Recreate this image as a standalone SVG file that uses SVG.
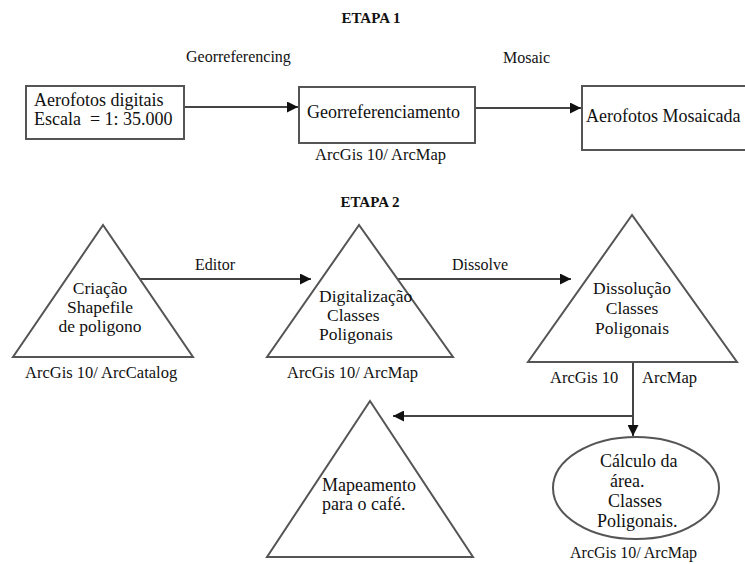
<svg xmlns="http://www.w3.org/2000/svg" width="745" height="564" viewBox="0 0 745 564">
<defs>
<style>
text{font-family:"Liberation Serif","Times New Roman",serif;fill:#111;white-space:pre}
.h{font-weight:bold;font-size:15px;text-anchor:middle}
.lbl{font-size:16px}
.n{font-size:18px}
.t{font-size:17.5px}
.s{font-size:16.5px}
.c{text-anchor:middle}
.shape{fill:#fff;stroke:#555;stroke-width:2}
.edge{fill:none;stroke:#444;stroke-width:2}
</style>
<marker id="ah" viewBox="0 0 10 10" refX="10" refY="5" markerWidth="5.5" markerHeight="5.5" orient="auto" markerUnits="strokeWidth">
<path d="M0,0 L10,5 L0,10 z" fill="#111"/>
</marker>
</defs>
<rect width="745" height="564" fill="#fff"/>

<text class="h" x="371" y="23">ETAPA 1</text>
<text class="h" x="370" y="207">ETAPA 2</text>

<g id="connectors">
<line class="edge" x1="184" y1="107" x2="298" y2="107" marker-end="url(#ah)"/>
<line class="edge" x1="475" y1="108" x2="581" y2="108" marker-end="url(#ah)"/>
<line class="edge" x1="140" y1="279" x2="311" y2="279" marker-end="url(#ah)"/>
<line class="edge" x1="398" y1="279" x2="571" y2="279" marker-end="url(#ah)"/>
<line class="edge" x1="633" y1="362" x2="633" y2="436" marker-end="url(#ah)"/>
<line class="edge" x1="633" y1="416" x2="393" y2="416" marker-end="url(#ah)"/>
<text class="lbl" x="186" y="62">Georreferencing</text>
<text class="lbl" x="503" y="63">Mosaic</text>
<text class="lbl" x="195" y="270">Editor</text>
<text class="lbl" x="452" y="270">Dissolve</text>
</g>

<g id="aerofotos-digitais">
<rect class="shape" x="26" y="86" width="158" height="53"/>
<text class="n" x="34" y="106">Aerofotos digitais</text>
<text class="n" x="34" y="125">Escala  = 1: 35.000</text>
</g>

<g id="georreferenciamento">
<rect class="shape" x="299" y="87" width="176" height="56"/>
<text class="n" x="307" y="118">Georreferenciamento</text>
<text class="s" x="315" y="160">ArcGis 10/ ArcMap</text>
</g>

<g id="aerofotos-mosaicada">
<rect class="shape" x="582" y="86" width="175" height="64"/>
<text class="n" x="586" y="122">Aerofotos Mosaicada</text>
</g>

<g id="criacao-shapefile">
<polygon class="shape" points="103,225 13,357 193,357"/>
<text class="t c" x="100" y="294">Criação</text>
<text class="t c" x="100" y="313">Shapefile</text>
<text class="t c" x="100" y="332">de poligono</text>
<text class="s" x="25" y="378">ArcGis 10/ ArcCatalog</text>
</g>

<g id="digitalizacao">
<polygon class="shape" points="359,225 267,357 453,357"/>
<text class="t" x="319" y="302">Digitalização</text>
<text class="t" x="327" y="321">Classes</text>
<text class="t" x="319" y="340">Poligonais</text>
<text class="s" x="287" y="378">ArcGis 10/ ArcMap</text>
</g>

<g id="dissolucao">
<polygon class="shape" points="632,215 528,362 737,362"/>
<text class="t c" x="632" y="294">Dissolução</text>
<text class="t c" x="632" y="314">Classes</text>
<text class="t c" x="632" y="334">Poligonais</text>
<text class="s" x="550" y="383">ArcGis 10</text>
<text class="s" x="642" y="383">ArcMap</text>
</g>

<g id="mapeamento">
<polygon class="shape" points="370,401 267,557 473,557"/>
<text class="n" x="322" y="491">Mapeamento</text>
<text class="n" x="322" y="510">para o café.</text>
</g>

<g id="calculo-area">
<ellipse class="shape" cx="636" cy="488" rx="83" ry="51"/>
<text class="n" x="600" y="467">Cálculo da</text>
<text class="n" x="610" y="487">área.</text>
<text class="n" x="608" y="507">Classes</text>
<text class="n" x="597" y="527">Poligonais.</text>
<text class="lbl" x="570" y="558">ArcGis 10/ ArcMap</text>
</g>
</svg>
